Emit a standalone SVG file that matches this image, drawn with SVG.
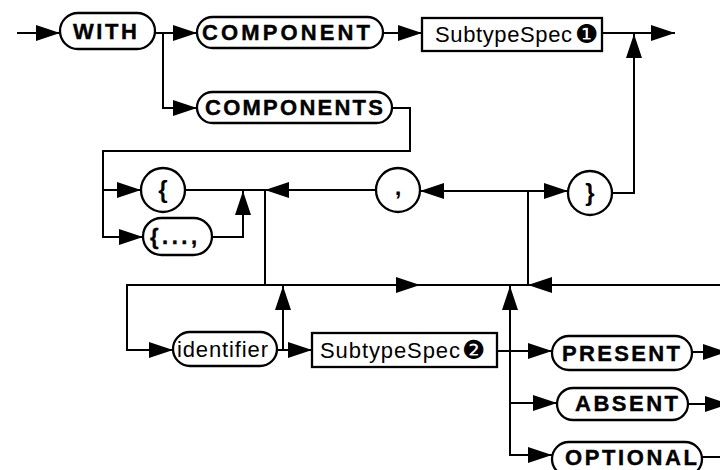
<svg xmlns="http://www.w3.org/2000/svg" width="720" height="470" viewBox="0 0 720 470">
<style>
  .bg{fill:#ffffff}
  .box{fill:#ffffff;stroke:#000;stroke-width:2.3}
  .ln{fill:none;stroke:#000;stroke-width:2}
  .kw{font-family:"Liberation Sans",Arial,sans-serif;font-weight:bold;font-size:22px;fill:#000;stroke:#000;stroke-width:0.4}
  .br{font-family:"Liberation Sans",Arial,sans-serif;font-weight:bold;font-size:24px;fill:#000}
  .nt{font-family:"Liberation Sans",Arial,sans-serif;font-size:22px;fill:#000}
  .num{font-family:"DejaVu Sans",sans-serif;font-size:26px;fill:#000}
</style>
<defs>
  <marker id="ah" viewBox="0 0 24 16" refX="24" refY="8" markerWidth="24" markerHeight="16" markerUnits="userSpaceOnUse" orient="auto">
    <path d="M0,0 L24,8 L0,16 z" fill="#000"/>
  </marker>
</defs>
<rect class="bg" x="0" y="0" width="720" height="470"/>

<g id="connectors">
  <path class="ln" d="M17,33 H60" marker-end="url(#ah)"/>
  <path class="ln" d="M155,33 H197" marker-end="url(#ah)"/>
  <path class="ln" d="M163,33 V108 H197" marker-end="url(#ah)"/>
  <path class="ln" d="M383,33 H422" marker-end="url(#ah)"/>
  <path class="ln" d="M602,33 H675" marker-end="url(#ah)"/>
  <path class="ln" d="M612,193 H634 V34" marker-end="url(#ah)"/>
  <path class="ln" d="M392,108 H410 V151 H103 V237 H143" marker-end="url(#ah)"/>
  <path class="ln" d="M103,190 H141" marker-end="url(#ah)"/>
  <path class="ln" d="M185,190 H265"/>
  <path class="ln" d="M212,237 H243 V191" marker-end="url(#ah)"/>
  <path class="ln" d="M376,190 H265" marker-end="url(#ah)"/>
  <path class="ln" d="M528,191 H420" marker-end="url(#ah)"/>
  <path class="ln" d="M528,191 H568" marker-end="url(#ah)"/>
  <path class="ln" d="M265,190 V285 H127 V350 H173" marker-end="url(#ah)"/>
  <path class="ln" d="M265,285 H420" marker-end="url(#ah)"/>
  <path class="ln" d="M420,285 H528 V191"/>
  <path class="ln" d="M722,285 H528" marker-end="url(#ah)"/>
  <path class="ln" d="M277,350 H312" marker-end="url(#ah)"/>
  <path class="ln" d="M283,350 V286" marker-end="url(#ah)"/>
  <path class="ln" d="M497,351 H552" marker-end="url(#ah)"/>
  <path class="ln" d="M510,455 V286" marker-end="url(#ah)"/>
  <path class="ln" d="M510,403 H557" marker-end="url(#ah)"/>
  <path class="ln" d="M510,440 V455 H552" marker-end="url(#ah)"/>
  <path class="ln" d="M692,352 H727" marker-end="url(#ah)"/>
  <path class="ln" d="M688,404 H729" marker-end="url(#ah)"/>
  <path class="ln" d="M702,457 H722"/>
</g>

<g id="n-with">
  <rect class="box" x="60" y="13" width="95" height="36" rx="18"/>
  <text class="kw" x="105" y="39" text-anchor="middle" textLength="64" lengthAdjust="spacing">WITH</text>
</g>
<g id="n-component">
  <rect class="box" x="197" y="17" width="186" height="31" rx="15.5"/>
  <text class="kw" x="286" y="40" text-anchor="middle" textLength="168" lengthAdjust="spacing">COMPONENT</text>
</g>
<g id="n-subtype1">
  <rect class="box" x="422" y="18" width="180" height="33"/>
  <text class="nt" x="435" y="42" textLength="137" lengthAdjust="spacing">SubtypeSpec</text>
  <text class="num" x="575" y="43">❶</text>
</g>
<g id="n-components">
  <rect class="box" x="197" y="92" width="195" height="31" rx="15.5"/>
  <text class="kw" x="294" y="115" text-anchor="middle" textLength="178" lengthAdjust="spacing">COMPONENTS</text>
</g>
<g id="n-lbrace">
  <circle class="box" cx="163" cy="190" r="22"/>
  <text class="br" x="163" y="198" text-anchor="middle">{</text>
</g>
<g id="n-lbrace-ellipsis">
  <rect class="box" x="143" y="218" width="69" height="37" rx="18.5"/>
  <text class="kw" x="150" y="244" textLength="47" lengthAdjust="spacing">{...,</text>
</g>
<g id="n-comma">
  <circle class="box" cx="398" cy="190" r="22"/>
  <text class="br" x="398" y="195" text-anchor="middle">,</text>
</g>
<g id="n-rbrace">
  <circle class="box" cx="590" cy="193" r="22"/>
  <text class="br" x="590" y="201" text-anchor="middle">}</text>
</g>
<g id="n-identifier">
  <rect class="box" x="173" y="332" width="104" height="34" rx="17"/>
  <text class="nt" x="177" y="357" textLength="91" lengthAdjust="spacing">identifier</text>
</g>
<g id="n-subtype2">
  <rect class="box" x="312" y="333" width="185" height="34"/>
  <text class="nt" x="320" y="358" textLength="140" lengthAdjust="spacing">SubtypeSpec</text>
  <text class="num" x="462" y="359">❷</text>
</g>
<g id="n-present">
  <rect class="box" x="552" y="336" width="140" height="34" rx="17"/>
  <text class="kw" x="621" y="361" text-anchor="middle" textLength="118" lengthAdjust="spacing">PRESENT</text>
</g>
<g id="n-absent">
  <rect class="box" x="557" y="388" width="131" height="32" rx="16"/>
  <text class="kw" x="626.5" y="411" text-anchor="middle" textLength="103" lengthAdjust="spacing">ABSENT</text>
</g>
<g id="n-optional">
  <rect class="box" x="552" y="442" width="150" height="34" rx="17"/>
  <text class="kw" x="631" y="465" text-anchor="middle" textLength="132" lengthAdjust="spacing">OPTIONAL</text>
</g>
</svg>
